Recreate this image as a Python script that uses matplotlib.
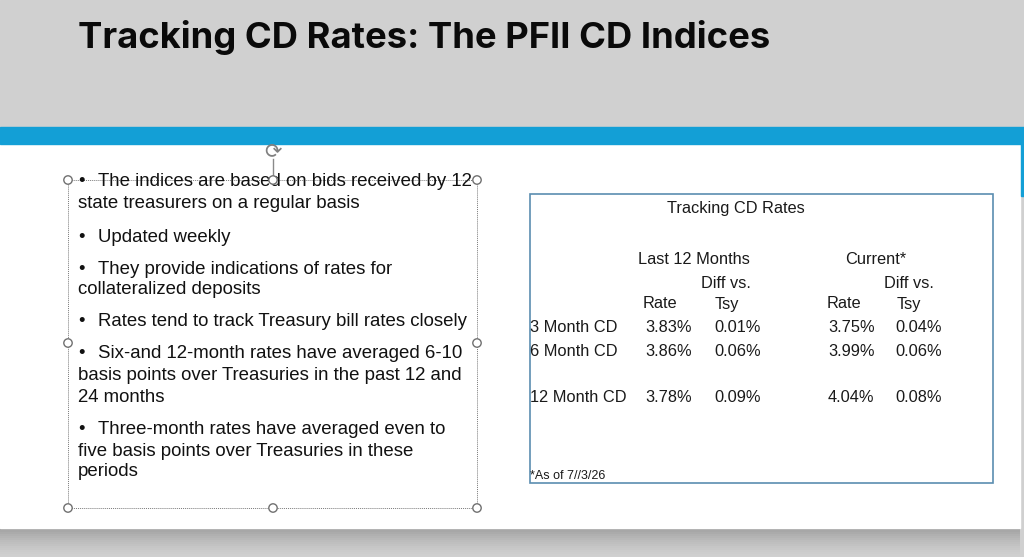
import matplotlib
matplotlib.use("Agg")
import matplotlib.pyplot as plt
from matplotlib.patches import Rectangle, Circle

title = "Tracking CD Rates: The PFII CD Indices"
bullets = [
    ["The indices are based on bids received by 12", "state treasurers on a regular basis"],
    ["Updated weekly"],
    ["They provide indications of rates for", "collateralized deposits"],
    ["Rates tend to track Treasury bill rates closely"],
    ["Six-and 12-month rates have averaged 6-10", "basis points over Treasuries in the past 12 and", "24 months"],
    ["Three-month rates have averaged even to", "five basis points over Treasuries in these", "periods"],
]
table_title = "Tracking CD Rates"
period_headers = ["Last 12 Months", "Current*"]
categories = ["3 Month CD", "6 Month CD", "12 Month CD"]
rate_12m = [3.83, 3.86, 3.78]
diff_12m = [0.01, 0.06, 0.09]
rate_cur = [3.75, 3.99, 4.04]
diff_cur = [0.04, 0.06, 0.08]
footnote = "*As of 7//3/26"

W, H = 1024, 557
fig = plt.figure(figsize=(W / 100, H / 100), dpi=100)
ax = fig.add_axes([0, 0, 1, 1])
ax.set_xlim(0, W)
ax.set_ylim(H, 0)
ax.axis("off")

body_font = ["Liberation Sans", "DejaVu Sans"]

# background
ax.add_patch(Rectangle((0, 0), W, H, color="#d0d0d0", zorder=0))
# shadow under slide
for i in range(14):
    a = 0.22 * (1 - i / 14) ** 1.5
    ax.add_patch(Rectangle((0, 528 + i * 2), 1020, 2, color="black", alpha=a, lw=0, zorder=1))
# white slide
ax.add_patch(Rectangle((0, 144), 1020, 384, color="white", zorder=1))
# blue band
ax.add_patch(Rectangle((0, 127), W, 17, color="#139fd6", zorder=2))
ax.add_patch(Rectangle((1021, 144), 3, 52, color="#139fd6", zorder=2))

# title
ax.text(78, 48, title, fontsize=26.2, fontweight="bold", family=["Inter", "DejaVu Sans"],
        ha="left", va="baseline", color="#0a0a0a", zorder=3)

# bullets
bfs = 13.4
ys = [[182, 204], [237], [269, 290], [322], [353, 375, 397], [429, 451, 471]]
for lines, yl in zip(bullets, ys):
    for j, (ln, y) in enumerate(zip(lines, yl)):
        if j == 0:
            ax.text(78, y, "\u2022", fontsize=bfs, family=body_font, ha="left", va="center",
                    color="#111111", zorder=4)
            ax.text(98, y, ln, fontsize=bfs, family=body_font, ha="left", va="center",
                    color="#111111", zorder=4)
        else:
            ax.text(78, y, ln, fontsize=bfs, family=body_font, ha="left", va="center",
                    color="#111111", zorder=4)

# selection box
ax.add_patch(Rectangle((68, 180), 409, 328, fill=False, ec="#7a7a7a", lw=0.7,
                       ls=(0, (1, 1)), zorder=3))
ax.plot([273, 273], [159, 180], color="#8a8a8a", lw=1, zorder=3)
for (cx, cy) in [(68, 180), (273, 180), (477, 180), (68, 343), (477, 343),
                 (68, 508), (273, 508), (477, 508)]:
    ax.add_patch(Circle((cx, cy), 4.2, fc="white", ec="#707070", lw=1, zorder=5))
ax.text(273, 151, "\u27f3", fontsize=15, family=["DejaVu Sans"], ha="center", va="center",
        color="#808080", zorder=5)

# table box
ax.add_patch(Rectangle((530, 194), 463, 289, fill=False, ec="#5b8db0", lw=1.2, zorder=3))
tf = dict(family=body_font, fontsize=11.8, color="#1a1a1a", va="center", zorder=4)
ax.text(736, 209, table_title, ha="center", **tf)
ax.text(638, 259, period_headers[0], ha="left", **tf)
ax.text(845, 259, period_headers[1], ha="left", **tf)
ax.text(701, 283, "Diff vs.", ha="left", **tf)
ax.text(884, 283, "Diff vs.", ha="left", **tf)
ax.text(643, 304, "Rate", ha="left", **tf)
ax.text(715, 304, "Tsy", ha="left", **tf)
ax.text(827, 304, "Rate", ha="left", **tf)
ax.text(897, 304, "Tsy", ha="left", **tf)
row_y = [328, 352, 397]
for c, r1, d1, r2, d2, y in zip(categories, rate_12m, diff_12m, rate_cur, diff_cur, row_y):
    ax.text(530, y, c, ha="left", **tf)
    ax.text(645, y, f"{r1:.2f}%", ha="left", **tf)
    ax.text(714, y, f"{d1:.2f}%", ha="left", **tf)
    ax.text(828, y, f"{r2:.2f}%", ha="left", **tf)
    ax.text(895, y, f"{d2:.2f}%", ha="left", **tf)
ax.text(530, 476, footnote, ha="left", family=body_font,
        fontsize=9, color="#1a1a1a", va="center", zorder=4)

fig.savefig("out.png", dpi=100)
